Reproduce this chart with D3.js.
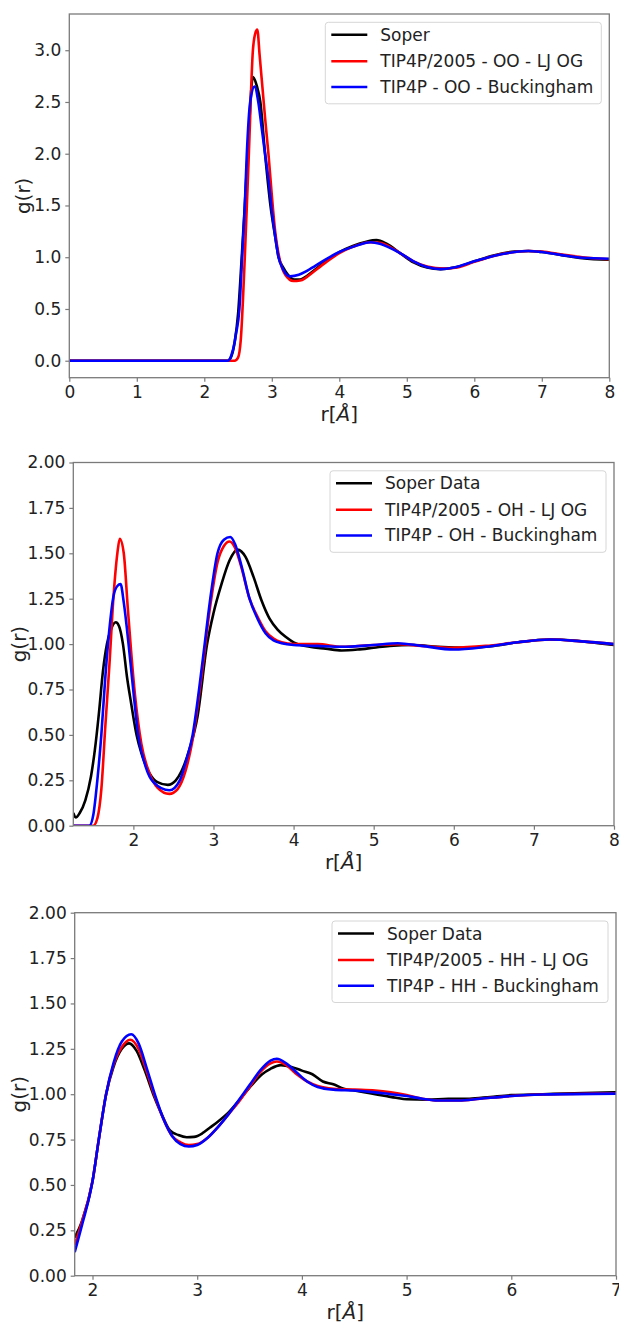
<!DOCTYPE html>
<html>
<head>
<meta charset="utf-8">
<script src="https://cdn.jsdelivr.net/npm/d3@7"></script>
<style>
  body { margin: 0; background: #fff; }
  svg text { font-family: "DejaVu Sans", sans-serif; fill: #222; }
</style>
</head>
<body>
<div id="chart"></div>
<script>
// ---- O-O panel data
var ooSoperR = [0, 2.35, 2.4, 2.45, 2.5, 2.55, 2.6, 2.65, 2.72, 2.78, 2.83, 2.9, 2.98, 3.05, 3.1, 3.17, 3.24, 3.33, 3.42, 3.5, 3.6, 3.8, 4.0, 4.2, 4.4, 4.55, 4.7, 4.9, 5.1, 5.3, 5.5, 5.7, 6.0, 6.3, 6.6, 6.8, 7.0, 7.3, 7.6, 8.0];
var ooSoperG = [0, 0, 0.04, 0.18, 0.45, 0.95, 1.5, 2.1, 2.74, 2.65, 2.5, 2.0, 1.5, 1.2, 1.0, 0.9, 0.83, 0.785, 0.785, 0.81, 0.86, 0.96, 1.05, 1.11, 1.15, 1.165, 1.13, 1.04, 0.95, 0.9, 0.885, 0.9, 0.96, 1.02, 1.055, 1.06, 1.05, 1.02, 0.99, 0.975];
var ooLjR = [0, 2.45, 2.5, 2.54, 2.6, 2.66, 2.72, 2.75, 2.785, 2.82, 2.86, 2.9, 2.95, 3.0, 3.05, 3.1, 3.15, 3.2, 3.32, 3.42, 3.5, 3.6, 3.8, 4.0, 4.2, 4.45, 4.6, 4.75, 4.9, 5.1, 5.3, 5.55, 5.75, 6.0, 6.3, 6.6, 6.8, 7.0, 7.3, 7.6, 8.0];
var ooLjG = [0, 0, 0.03, 0.2, 1.0, 2.0, 3.0, 3.15, 3.2, 2.95, 2.65, 2.35, 2.0, 1.6, 1.25, 1.03, 0.9, 0.83, 0.77, 0.775, 0.8, 0.85, 0.95, 1.04, 1.1, 1.145, 1.14, 1.1, 1.04, 0.96, 0.91, 0.89, 0.9, 0.955, 1.015, 1.05, 1.06, 1.055, 1.025, 1.0, 0.98];
var ooBuckR = [0, 2.35, 2.4, 2.45, 2.47, 2.52, 2.56, 2.6, 2.63, 2.68, 2.745, 2.8, 2.85, 2.9, 2.96, 3.0, 3.05, 3.1, 3.17, 3.27, 3.4, 3.5, 3.6, 3.8, 4.0, 4.2, 4.47, 4.6, 4.75, 4.9, 5.1, 5.3, 5.5, 5.7, 6.0, 6.3, 6.6, 6.8, 7.0, 7.3, 7.6, 8.0];
var ooBuckG = [0, 0, 0.05, 0.18, 0.26, 0.5, 1.0, 1.5, 2.0, 2.5, 2.65, 2.5, 2.25, 2.0, 1.7, 1.45, 1.2, 1.0, 0.88, 0.815, 0.83, 0.86, 0.9, 0.98, 1.05, 1.1, 1.145, 1.13, 1.09, 1.04, 0.96, 0.905, 0.885, 0.9, 0.96, 1.015, 1.05, 1.06, 1.05, 1.02, 0.995, 0.985];

// ---- O-H panel data
var ohSoperR = [1.25, 1.28, 1.33, 1.4, 1.47, 1.52, 1.57, 1.62, 1.67, 1.72, 1.78, 1.82, 1.87, 1.92, 1.97, 2.04, 2.1, 2.2, 2.3, 2.43, 2.53, 2.6, 2.7, 2.8, 2.92, 3.0, 3.1, 3.2, 3.3, 3.4, 3.5, 3.6, 3.7, 3.8, 3.9, 4.0, 4.2, 4.4, 4.6, 4.8, 5.0, 5.2, 5.5, 5.8, 6.2, 6.5, 6.8, 7.2, 7.5, 7.8, 8.0];
var ohSoperG = [0.07, 0.045, 0.07, 0.14, 0.27, 0.42, 0.62, 0.85, 1.0, 1.08, 1.12, 1.1, 1.0, 0.82, 0.68, 0.5, 0.4, 0.29, 0.24, 0.225, 0.25, 0.3, 0.42, 0.6, 1.0, 1.17, 1.33, 1.46, 1.52, 1.48, 1.37, 1.24, 1.14, 1.08, 1.04, 1.01, 0.985, 0.975, 0.965, 0.97, 0.98, 0.99, 0.995, 0.985, 0.98, 0.99, 1.01, 1.025, 1.02, 1.005, 0.995];
var ohLjR = [1.25, 1.5, 1.55, 1.6, 1.65, 1.7, 1.75, 1.8, 1.83, 1.88, 1.93, 1.97, 2.02, 2.1, 2.2, 2.3, 2.45, 2.55, 2.65, 2.75, 2.85, 2.95, 3.05, 3.13, 3.2, 3.27, 3.35, 3.45, 3.55, 3.65, 3.75, 3.85, 4.0, 4.3, 4.6, 5.0, 5.3, 5.6, 6.0, 6.4, 6.8, 7.2, 7.6, 8.0];
var ohLjG = [0, 0, 0.04, 0.2, 0.55, 0.88, 1.25, 1.5, 1.58, 1.5, 1.2, 0.97, 0.72, 0.45, 0.29, 0.21, 0.175, 0.2, 0.3, 0.5, 0.82, 1.18, 1.45, 1.54, 1.565, 1.53, 1.42, 1.25, 1.15, 1.07, 1.03, 1.01, 1.0, 1.0, 0.985, 0.995, 1.0, 0.99, 0.98, 0.99, 1.01, 1.025, 1.015, 1.0];
var ohBuckR = [1.25, 1.45, 1.5, 1.55, 1.6, 1.65, 1.7, 1.75, 1.8, 1.84, 1.88, 1.94, 2.0, 2.06, 2.15, 2.25, 2.45, 2.58, 2.66, 2.74, 2.82, 2.89, 2.96, 3.05, 3.13, 3.21, 3.27, 3.35, 3.45, 3.55, 3.65, 3.75, 3.85, 4.0, 4.3, 4.6, 5.0, 5.3, 5.6, 6.0, 6.4, 6.8, 7.2, 7.6, 8.0];
var ohBuckG = [0, 0, 0.06, 0.25, 0.5, 0.82, 1.08, 1.26, 1.32, 1.33, 1.23, 1.0, 0.74, 0.5, 0.33, 0.24, 0.195, 0.25, 0.36, 0.5, 0.75, 1.0, 1.25, 1.5, 1.575, 1.59, 1.55, 1.43, 1.25, 1.14, 1.06, 1.02, 1.005, 0.995, 0.99, 0.985, 0.995, 1.005, 0.99, 0.97, 0.985, 1.01, 1.025, 1.015, 1.0];

// ---- H-H panel data
var hhSoperR = [1.83, 1.9, 2.0, 2.06, 2.13, 2.2, 2.28, 2.35, 2.42, 2.5, 2.58, 2.66, 2.74, 2.82, 2.9, 2.97, 3.05, 3.12, 3.2, 3.3, 3.42, 3.52, 3.62, 3.7, 3.8, 3.9, 4.0, 4.1, 4.2, 4.3, 4.4, 4.5, 4.65, 4.8, 4.9, 5.0, 5.2, 5.4, 5.6, 5.8, 6.0, 6.3, 6.6, 7.0];
var hhSoperG = [0.21, 0.3, 0.52, 0.75, 1.0, 1.15, 1.25, 1.28, 1.24, 1.13, 1.0, 0.89, 0.8, 0.775, 0.763, 0.765, 0.785, 0.815, 0.85, 0.9, 0.98, 1.05, 1.11, 1.14, 1.16, 1.15, 1.13, 1.11, 1.07, 1.055, 1.03, 1.02, 1.005, 0.99, 0.98, 0.972, 0.97, 0.975, 0.975, 0.985, 0.995, 1.0, 1.005, 1.01];
var hhLjR = [1.83, 1.9, 2.0, 2.06, 2.13, 2.2, 2.28, 2.36, 2.44, 2.52, 2.6, 2.68, 2.76, 2.84, 2.92, 3.0, 3.1, 3.2, 3.3, 3.4, 3.5, 3.6, 3.7, 3.76, 3.85, 3.95, 4.05, 4.15, 4.3, 4.5, 4.7, 4.85, 5.0, 5.15, 5.3, 5.5, 5.7, 6.0, 6.3, 7.0];
var hhLjG = [0.17, 0.3, 0.52, 0.75, 1.0, 1.16, 1.26, 1.3, 1.25, 1.12, 0.98, 0.86, 0.77, 0.735, 0.72, 0.725, 0.76, 0.82, 0.89, 0.96, 1.04, 1.12, 1.17, 1.18, 1.16, 1.11, 1.07, 1.045, 1.03, 1.025, 1.02, 1.01, 0.995, 0.975, 0.965, 0.965, 0.975, 0.99, 0.998, 1.005];
var hhBuckR = [1.83, 1.9, 2.0, 2.06, 2.13, 2.2, 2.28, 2.37, 2.44, 2.52, 2.6, 2.68, 2.76, 2.84, 2.92, 3.0, 3.1, 3.2, 3.3, 3.4, 3.5, 3.6, 3.7, 3.76, 3.85, 3.95, 4.05, 4.15, 4.3, 4.5, 4.7, 4.85, 5.0, 5.15, 5.3, 5.5, 5.7, 6.0, 6.3, 7.0];
var hhBuckG = [0.13, 0.28, 0.52, 0.75, 1.0, 1.17, 1.29, 1.33, 1.28, 1.14, 0.99, 0.86, 0.77, 0.725, 0.712, 0.72, 0.76, 0.82, 0.89, 0.97, 1.05, 1.13, 1.185, 1.195, 1.17, 1.12, 1.07, 1.04, 1.025, 1.02, 1.01, 1.0, 0.99, 0.975, 0.965, 0.965, 0.975, 0.99, 0.998, 1.003];

var seriesColors = ["#000000", "#ff0000", "#0000ff"];
var ooLabels = ["Soper", "TIP4P/2005 - OO - LJ OG", "TIP4P - OO - Buckingham"];
var ohLabels = ["Soper Data", "TIP4P/2005 - OH - LJ OG", "TIP4P - OH - Buckingham"];
var hhLabels = ["Soper Data", "TIP4P/2005 - HH - LJ OG", "TIP4P - HH - Buckingham"];

var ooXTicks = [0, 1, 2, 3, 4, 5, 6, 7, 8];
var ooYTicks = [0, 0.5, 1.0, 1.5, 2.0, 2.5, 3.0];
var ohXTicks = [2, 3, 4, 5, 6, 7, 8];
var hhXTicks = [2, 3, 4, 5, 6, 7];
var gYTicks = [0, 0.25, 0.5, 0.75, 1.0, 1.25, 1.5, 1.75, 2.0];

function pairs(r, g) { return r.map(function(v, i) { return [v, g[i]]; }); }

var panels = [
  { id: "oo", box: {left: 69.3, right: 609.3, top: 14, bottom: 377.7},
    xDom: [0, 8], yDom: [-0.164, 3.35], xTicks: ooXTicks, yTicks: ooYTicks, yFmt: ".1f", ylabX: 23,
    series: [pairs(ooSoperR, ooSoperG), pairs(ooLjR, ooLjG), pairs(ooBuckR, ooBuckG)], labels: ooLabels },
  { id: "oh", box: {left: 73.3, right: 614, top: 462.5, bottom: 825.7},
    xDom: [1.25, 8], yDom: [0, 2], xTicks: ohXTicks, yTicks: gYTicks, yFmt: ".2f", ylabX: 19,
    series: [pairs(ohSoperR, ohSoperG), pairs(ohLjR, ohLjG), pairs(ohBuckR, ohBuckG)], labels: ohLabels },
  { id: "hh", box: {left: 74.7, right: 616, top: 912.7, bottom: 1275.7},
    xDom: [1.83, 7], yDom: [0, 2], xTicks: hhXTicks, yTicks: gYTicks, yFmt: ".2f", ylabX: 19,
    series: [pairs(hhSoperR, hhSoperG), pairs(hhLjR, hhLjG), pairs(hhBuckR, hhBuckG)], labels: hhLabels }
];

var svg = d3.select("#chart").append("svg")
    .attr("width", 619)
    .attr("height", 1327);

var axisColor = "#7a7a7a";

panels.forEach(function(p) {
    var b = p.box;
    var x = d3.scaleLinear().domain(p.xDom).range([b.left, b.right]);
    var y = d3.scaleLinear().domain(p.yDom).range([b.bottom, b.top]);

    svg.append("clipPath").attr("id", "clip-" + p.id)
      .append("rect")
        .attr("x", b.left).attr("y", b.top)
        .attr("width", b.right - b.left).attr("height", b.bottom - b.top);

    var line = d3.line()
        .x(function(d) { return x(d[0]); })
        .y(function(d) { return y(d[1]); })
        .curve(d3.curveMonotoneX);

    var g = svg.append("g").attr("clip-path", "url(#clip-" + p.id + ")");
    p.series.forEach(function(s, i) {
        g.append("path")
            .datum(s)
            .attr("d", line)
            .attr("fill", "none")
            .attr("stroke", seriesColors[i])
            .attr("stroke-width", 2.6)
            .attr("stroke-linejoin", "round");
    });

    // axes
    var xAxis = d3.axisBottom(x).tickValues(p.xTicks).tickFormat(d3.format("d")).tickSize(4).tickPadding(4);
    var yAxis = d3.axisLeft(y).tickValues(p.yTicks).tickFormat(d3.format(p.yFmt)).tickSize(4).tickPadding(4);

    var gx = svg.append("g").attr("transform", "translate(0," + b.bottom + ")").call(xAxis);
    var gy = svg.append("g").attr("transform", "translate(" + b.left + ",0)").call(yAxis);
    [gx, gy].forEach(function(ax) {
        ax.select(".domain").remove();
        ax.selectAll(".tick line").attr("stroke", axisColor).attr("stroke-width", 1.2);
        ax.selectAll(".tick text").style("font-size", "17px").attr("fill", "#222");
    });

    // frame
    svg.append("rect")
        .attr("x", b.left).attr("y", b.top)
        .attr("width", b.right - b.left).attr("height", b.bottom - b.top)
        .attr("fill", "none")
        .attr("stroke", axisColor)
        .attr("stroke-width", 1.3);

    // axis labels
    var xl = svg.append("text")
        .attr("x", (b.left + b.right) / 2)
        .attr("y", b.bottom + 43.5)
        .attr("text-anchor", "middle")
        .style("font-size", "20px");
    xl.append("tspan").text("r[");
    xl.append("tspan").style("font-style", "italic").text("Å");
    xl.append("tspan").text("]");

    svg.append("text")
        .attr("transform", "translate(" + p.ylabX + "," + ((b.top + b.bottom) / 2) + ") rotate(-90)")
        .attr("text-anchor", "middle")
        .attr("dominant-baseline", "central")
        .style("font-size", "20px")
        .text("g(r)");

    // legend
    var lw = 276, lh = 81.5;
    var lx = b.right - 8 - lw, ly = b.top + 8.3;
    var leg = svg.append("g").attr("transform", "translate(" + lx + "," + ly + ")");
    leg.append("rect")
        .attr("width", lw).attr("height", lh)
        .attr("rx", 3).attr("ry", 3)
        .attr("fill", "#fff").attr("fill-opacity", 0.85)
        .attr("stroke", "#d6d6d6").attr("stroke-width", 1);
    var rowY = [12.5, 39, 64.7];
    p.labels.forEach(function(lab, i) {
        leg.append("line")
            .attr("x1", 6).attr("x2", 42)
            .attr("y1", rowY[i]).attr("y2", rowY[i])
            .attr("stroke", seriesColors[i]).attr("stroke-width", 2.6);
        leg.append("text")
            .attr("x", 55).attr("y", rowY[i])
            .attr("dominant-baseline", "central")
            .style("font-size", "17px")
            .text(lab);
    });
});
</script>
</body>
</html>
